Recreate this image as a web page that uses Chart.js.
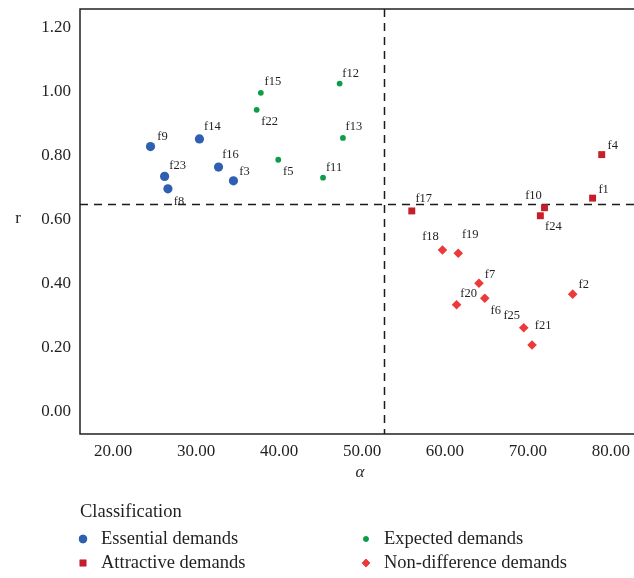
<!DOCTYPE html>
<html>
<head>
<meta charset="utf-8">
<script src="https://cdn.jsdelivr.net/npm/chart.js@4"></script>
<style>
  html, body { margin: 0; padding: 0; background: #fff; }
  #wrap { position: relative; width: 634px; height: 578px; }
</style>
</head>
<body>
<div id="wrap"><canvas id="c" width="634" height="578"></canvas></div>
<script>
// ---- data ----
const essentialNames = ['f9', 'f14', 'f16', 'f23', 'f3', 'f8'];
const essentialAlpha = [24.5, 30.4, 32.7, 26.2, 34.5, 26.6];
const essentialR = [0.829, 0.853, 0.765, 0.736, 0.722, 0.697];

const expectedNames = ['f15', 'f12', 'f22', 'f13', 'f5', 'f11'];
const expectedAlpha = [37.8, 47.3, 37.3, 47.7, 39.9, 45.3];
const expectedR = [0.997, 1.026, 0.944, 0.856, 0.788, 0.732];

const attractiveNames = ['f4', 'f1', 'f17', 'f10', 'f24'];
const attractiveAlpha = [78.9, 77.8, 56.0, 72.0, 71.5];
const attractiveR = [0.804, 0.668, 0.628, 0.638, 0.613];

const nonDiffNames = ['f18', 'f19', 'f7', 'f6', 'f20', 'f2', 'f25', 'f21'];
const nonDiffAlpha = [59.7, 61.6, 64.1, 64.8, 61.4, 75.4, 69.5, 70.5];
const nonDiffR = [0.506, 0.496, 0.402, 0.355, 0.335, 0.368, 0.263, 0.209];

const xTicks = [20, 30, 40, 50, 60, 70, 80];
const yTicks = [0, 0.2, 0.4, 0.6, 0.8, 1.0, 1.2];

const alphaThreshold = 52.6;
const rThreshold = 0.65;

const seriesLabels = ['Essential demands', 'Expected demands', 'Attractive demands', 'Non-difference demands'];
const legendTitle = 'Classification';
const xTitle = 'α';
const yTitle = 'r';

// ---- styling ----
const FONT = '"Liberation Serif", "DejaVu Serif", serif';
const TEXT = '#231f20';
const colors = ['#2f5fb0', '#0d9c4a', '#c41f2b', '#ec3a3a'];
const styles = ['circle', 'circle', 'rect', 'rectRot'];
const radii = [4.6, 2.9, 4.9, 4.8];

// label offsets (center of text relative to point, px)
const labelOffsets = {
  f15: [12, -11], f12: [11, -10], f22: [13, 12], f13: [11, -11], f9: [12, -10],
  f14: [13, -12], f16: [12, -12], f23: [13, -11], f3: [11, -9], f8: [11, 13],
  f5: [10, 12], f11: [11, -10], f4: [11, -9], f1: [11, -8], f17: [12, -12],
  f10: [-11, -12], f24: [13, 11], f18: [-12, -13], f19: [12, -18], f7: [11, -9],
  f20: [12, -11], f6: [11, 12], f2: [11, -9], f25: [-12, -12], f21: [11, -19]
};

function pts(a, r, n) { return a.map((v, i) => ({ x: v, y: r[i], name: n[i] })); }

const groups = [
  pts(essentialAlpha, essentialR, essentialNames),
  pts(expectedAlpha, expectedR, expectedNames),
  pts(attractiveAlpha, attractiveR, attractiveNames),
  pts(nonDiffAlpha, nonDiffR, nonDiffNames)
];

const datasets = groups.map((g, i) => ({
  label: seriesLabels[i],
  data: g,
  pointStyle: styles[i],
  pointRadius: radii[i],
  pointHoverRadius: radii[i],
  backgroundColor: colors[i],
  borderColor: colors[i],
  borderWidth: 0
}));

const decor = {
  id: 'decor',
  beforeDatasetsDraw(chart) {
    const { ctx, chartArea: ca, scales: { x, y } } = chart;
    const W = chart.width;
    ctx.save();
    ctx.strokeStyle = '#1a1a1a';
    ctx.lineWidth = 1.5;
    ctx.setLineDash([8, 6]);
    const yy = Math.round(y.getPixelForValue(rThreshold)) + 0.5;
    ctx.beginPath(); ctx.moveTo(ca.left, yy); ctx.lineTo(W, yy); ctx.stroke();
    const xx = Math.round(x.getPixelForValue(alphaThreshold)) + 0.5;
    ctx.beginPath(); ctx.moveTo(xx, ca.top); ctx.lineTo(xx, ca.bottom); ctx.stroke();
    ctx.setLineDash([]);
    ctx.strokeStyle = '#222';
    ctx.lineWidth = 1.5;
    ctx.beginPath();
    ctx.moveTo(W, ca.top);
    ctx.lineTo(ca.left, ca.top);
    ctx.lineTo(ca.left, ca.bottom);
    ctx.lineTo(W, ca.bottom);
    ctx.stroke();
    ctx.restore();
  },
  afterDatasetsDraw(chart) {
    const { ctx, scales: { x, y } } = chart;
    ctx.save();
    ctx.fillStyle = TEXT;
    ctx.font = '12.5px ' + FONT;
    ctx.textAlign = 'center';
    ctx.textBaseline = 'middle';
    chart.data.datasets.forEach(ds => {
      ds.data.forEach(p => {
        const off = labelOffsets[p.name] || [10, -10];
        ctx.fillText(p.name, x.getPixelForValue(p.x) + off[0], y.getPixelForValue(p.y) + off[1]);
      });
    });
    // axis titles
    ctx.font = 'italic 17px ' + FONT;
    ctx.fillText(xTitle, 360, 473);
    ctx.font = '17px ' + FONT;
    ctx.fillText(yTitle, 18, 219);
    // legend
    ctx.textAlign = 'left';
    ctx.font = '18.5px ' + FONT;
    ctx.fillText(legendTitle, 80, 512);
    const pos = [[83, 539], [366, 539], [83, 563], [366, 563]];
    const lr = [4.2, 2.7, 4.7, 4.2];
    seriesLabels.forEach((lab, i) => {
      const [px, py] = pos[i];
      ctx.fillStyle = colors[i];
      Chart.helpers.drawPoint(ctx, { pointStyle: styles[i], radius: lr[i], rotation: 0, borderWidth: 0 }, px, py);
      ctx.fill();
      ctx.fillStyle = TEXT;
      ctx.fillText(lab, px + 18, py);
    });
    ctx.restore();
  }
};

new Chart(document.getElementById('c'), {
  type: 'scatter',
  data: { datasets },
  options: {
    responsive: false,
    animation: false,
    events: [],
    layout: { padding: { top: 9, right: 1, bottom: 88, left: 0 } },
    plugins: { legend: { display: false }, tooltip: { enabled: false } },
    scales: {
      x: {
        type: 'linear', min: 16.0, max: 82.2,
        grid: { display: false, drawTicks: false },
        border: { display: false },
        afterBuildTicks: s => { s.ticks = xTicks.map(v => ({ value: v })); },
        afterFit: s => { s.height = 56; s.paddingLeft = 0; s.paddingRight = 0; },
        ticks: { padding: 7, color: TEXT, font: { family: FONT, size: 17 }, callback: v => Number(v).toFixed(2), maxRotation: 0, autoSkip: false }
      },
      y: {
        type: 'linear', min: -0.069, max: 1.259,
        grid: { display: false, drawTicks: false },
        border: { display: false },
        afterBuildTicks: s => { s.ticks = yTicks.map(v => ({ value: v })); },
        afterFit: s => { s.width = 80; s.paddingTop = 0; s.paddingBottom = 0; },
        ticks: { padding: 9, color: TEXT, font: { family: FONT, size: 17 }, callback: v => Number(v).toFixed(2), autoSkip: false }
      }
    }
  },
  plugins: [decor]
});
</script>
</body>
</html>
